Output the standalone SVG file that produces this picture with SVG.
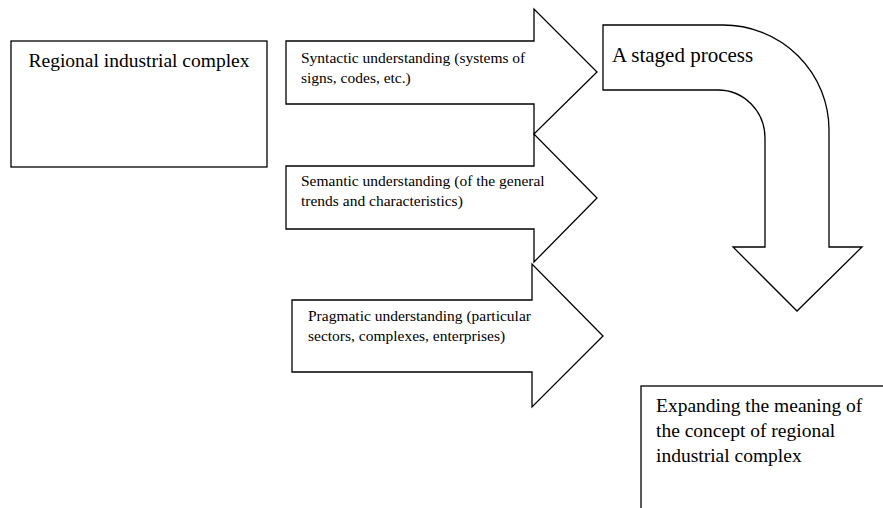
<svg xmlns="http://www.w3.org/2000/svg" width="883" height="508" viewBox="0 0 883 508">
<style>
.s{fill:#fff;stroke:#000;stroke-width:1.3;stroke-linejoin:miter}
text{font-family:"Liberation Serif","Times New Roman",serif;fill:#000}
.a{font-size:15.5px}
</style>
<rect width="883" height="508" fill="#fff"/>
<g id="node-regional">
<rect class="s" x="11" y="41" width="256" height="126"/>
<text x="139" y="67" font-size="19.5" text-anchor="middle">Regional industrial complex</text>
</g>
<g id="connectors">
<g id="arrow-syntactic">
<path class="s" d="M286,41 L534,41 L534,9 L597,72 L534,134 L534,104 L286,104 Z"/>
<text class="a" x="301" y="63">Syntactic understanding (systems of</text>
<text class="a" x="301" y="83">signs, codes, etc.)</text>
</g>
<g id="arrow-semantic">
<path class="s" d="M286,166 L534,166 L534,134 L597,198 L534,262 L534,229 L286,229 Z"/>
<text class="a" x="301" y="186">Semantic understanding (of the general</text>
<text class="a" x="301" y="206">trends and characteristics)</text>
</g>
<g id="arrow-pragmatic">
<path class="s" d="M292,300 L532,300 L532,264 L603,336 L532,407 L532,372 L292,372 Z"/>
<text class="a" x="308" y="321">Pragmatic understanding (particular</text>
<text class="a" x="308" y="341">sectors, complexes, enterprises)</text>
</g>
<g id="arrow-staged">
<path class="s" d="M603,25 L723,25 A106,105 0 0 1 829,130 L829,247 L862,247 L797,311 L733,247 L765,247 L765,138 A47,48 0 0 0 718,90 L603,90 Z"/>
<text x="612" y="62" font-size="21">A staged process</text>
</g>
</g>
<g id="node-expanding">
<rect class="s" x="641" y="386" width="262" height="150"/>
<text x="656" y="412" font-size="19.5">Expanding the meaning of</text>
<text x="656" y="437" font-size="19.5">the concept of regional</text>
<text x="656" y="462" font-size="19.5">industrial complex</text>
</g>
</svg>
